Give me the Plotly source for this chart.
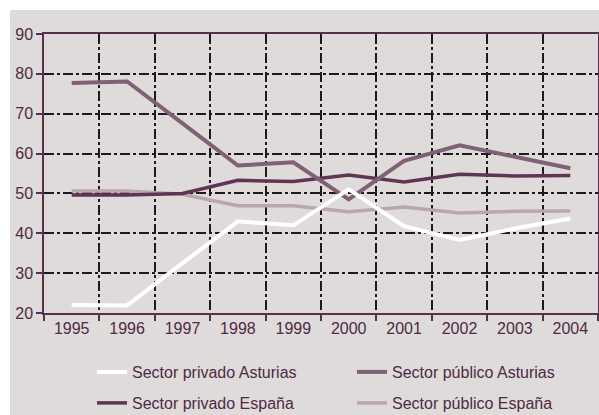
import plotly.graph_objects as go

years = ["1995", "1996", "1997", "1998", "1999", "2000", "2001", "2002", "2003", "2004"]
privado_asturias = [22.0, 21.9, 32.5, 43.0, 42.0, 51.0, 41.8, 38.3, 41.2, 43.7]
publico_asturias = [77.7, 78.1, 67.6, 57.0, 57.8, 48.5, 58.2, 62.1, 59.2, 56.3]
privado_espana = [49.6, 49.6, 50.0, 53.3, 53.0, 54.6, 52.9, 54.8, 54.4, 54.5]
publico_espana = [50.6, 50.6, 49.8, 46.9, 46.9, 45.4, 46.6, 45.1, 45.5, 45.6]

names = ["Sector privado Asturias", "Sector público Asturias",
         "Sector privado España", "Sector público España"]

BG = "#dfdbdb"
AXC = "#5a2f4c"
TXT = "#4e2a44"

fig = go.Figure()
fig.add_trace(go.Scatter(x=years, y=publico_espana, name=names[3], mode="lines",
                         line=dict(color="#b9a6b1", width=3.5), legend="legend4"))
fig.add_trace(go.Scatter(x=years, y=privado_espana, name=names[2], mode="lines",
                         line=dict(color="#5e3553", width=3.5), legend="legend3"))
fig.add_trace(go.Scatter(x=years, y=publico_asturias, name=names[1], mode="lines",
                         line=dict(color="#7f6075", width=4), legend="legend2"))
fig.add_trace(go.Scatter(x=years, y=privado_asturias, name=names[0], mode="lines",
                         line=dict(color="#ffffff", width=4), legend="legend"))

W, H = 599, 415
L, R, T, B = 44, 1, 34, 102
pw, ph = W - L - R, H - T - B

def px2x(p):
    return (p - L) / pw

def py2y(p):
    return (H - B - p) / ph

fig.add_shape(type="rect", xref="paper", yref="paper",
              x0=px2x(10), x1=px2x(600), y0=py2y(416), y1=py2y(10),
              fillcolor=BG, line=dict(width=0), layer="below")

dash = "10px,3px,3px,3px"
fig.update_xaxes(type="category", tickson="boundaries", showgrid=True,
                 gridcolor="#1e1a1c", gridwidth=1.5, griddash=dash,
                 ticks="outside", ticklen=6, tickcolor=AXC, tickwidth=1.5,
                 showline=True, linecolor=AXC, linewidth=1.5, mirror=True,
                 tickfont=dict(family="Liberation Sans", size=16, color=TXT),
                 range=[-0.5, 9.5], zeroline=False)
fig.update_yaxes(range=[20, 90], dtick=10, showgrid=True,
                 gridcolor="#1e1a1c", gridwidth=1.5, griddash=dash,
                 ticks="outside", ticklen=6, tickcolor=AXC, tickwidth=1.5,
                 showline=True, linecolor=AXC, linewidth=1.5, mirror=True,
                 tickfont=dict(family="Liberation Sans", size=16, color=TXT),
                 zeroline=False)

legfont = dict(family="Liberation Sans", size=16, color=TXT)

def leg(xp, yp):
    return dict(x=px2x(xp), y=py2y(yp), xanchor="left", yanchor="middle",
                bgcolor="rgba(0,0,0,0)", font=legfont, itemwidth=30,
                borderwidth=0)

fig.update_layout(
    width=W, height=H,
    margin=dict(l=L, r=R, t=T, b=B, autoexpand=False),
    paper_bgcolor="white", plot_bgcolor=BG,
    showlegend=True,
    legend=leg(92, 372),
    legend2=leg(352, 372),
    legend3=leg(92, 403),
    legend4=leg(352, 403),
)

fig.write_html("out.html", config={"displayModeBar": False},
               post_script="document.body.style.margin='0';document.body.style.padding='0';")
